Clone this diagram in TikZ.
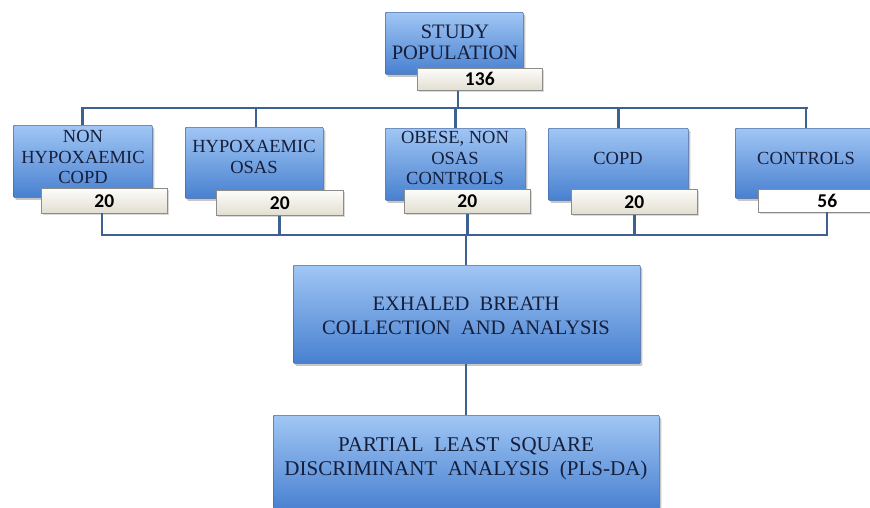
\documentclass[tikz,border=0pt]{standalone}
\usepackage{fontspec}
\setmainfont{Liberation Serif}
\newfontfamily\serf{Liberation Serif}
\newfontfamily\numfont{Carlito}
\usetikzlibrary{shadows}
\definecolor{boxtop}{RGB}{160,198,244}
\definecolor{boxbot}{RGB}{72,128,208}
\definecolor{boxedge}{RGB}{66,104,165}
\definecolor{conncol}{RGB}{60,98,145}
\definecolor{txtcol}{RGB}{22,30,58}
\definecolor{labtop}{RGB}{252,252,250}
\definecolor{labbot}{RGB}{226,222,208}
\definecolor{labedge}{RGB}{140,140,140}
\tikzset{
  bluebox/.style={draw=boxedge, line width=0.6pt, top color=boxtop, bottom color=boxbot,
    rounded corners=1pt, inner sep=0pt, anchor=north west,
    drop shadow={shadow xshift=2pt, shadow yshift=-2.5pt, opacity=0.45}},
  boxtxt/.style={text=txtcol, align=center, inner sep=0pt, font=\serf\fontsize{18.5}{20.5}\selectfont},
  bigtxt/.style={text=txtcol, align=center, inner sep=0pt, font=\serf\fontsize{20.5}{24}\selectfont},
  numlab/.style={draw=labedge, line width=0.6pt, top color=labtop, bottom color=labbot,
    inner sep=0pt, anchor=north west, text=black,
    font=\numfont\bfseries\fontsize{19.5}{19.5}\selectfont,
    drop shadow={shadow xshift=1.5pt, shadow yshift=-1.5pt, opacity=0.3}},
  whitelab/.style={numlab, top color=white, bottom color=white},
  conn/.style={draw=conncol, line width=2.8pt}
}
\begin{document}
\begin{tikzpicture}[x=1pt,y=-1pt]
\useasboundingbox (0,0) rectangle (870,507);

% top
\node[bluebox, minimum width=138, minimum height=62] (pop) at (385,12) {};
\node[boxtxt, font=\serf\fontsize{20.5}{21}\selectfont] (popt) at (455,42) {STUDY\\POPULATION};
\node[numlab, minimum width=125, minimum height=22] (l0) at (417,68) {136};

% hubs
\coordinate (hub) at (458,108);
\coordinate (bus) at (466,235);

% row boxes
\node[bluebox, minimum width=139, minimum height=72] (b1) at (13,125) {};
\node[bluebox, minimum width=138, minimum height=71] (b2) at (185,127) {};
\node[bluebox, minimum width=140, minimum height=72] (b3) at (385,128) {};
\node[bluebox, minimum width=140, minimum height=72] (b4) at (548,128) {};
\node[bluebox, minimum width=142, minimum height=70] (b5) at (735,128) {};

\node[boxtxt] (t1) at (83,157) {NON\\HYPOXAEMIC\\COPD};
\node[boxtxt] (t2) at (254,157) {HYPOXAEMIC\\OSAS};
\node[boxtxt] (t3) at (455,158) {OBESE, NON\\OSAS\\CONTROLS};
\node[boxtxt] (t4) at (618,158) {COPD};
\node[boxtxt] (t5) at (806,158) {CONTROLS};

\node[numlab, minimum width=126, minimum height=25] (l1) at (41,188) {20};
\node[numlab, minimum width=127, minimum height=25] (l2) at (216,190) {20};
\node[numlab, minimum width=126, minimum height=24] (l3) at (404,189) {20};
\node[numlab, minimum width=126, minimum height=25] (l4) at (571,189) {20};
\node[whitelab, minimum width=138, minimum height=23] (l5) at (758,189) {56};

% lower boxes
\node[bluebox, minimum width=347, minimum height=98] (exh) at (293,265) {};
\node[bigtxt] (exht) at (466,316) {EXHALED\ \ BREATH\\COLLECTION\ \ AND ANALYSIS};
\node[bluebox, minimum width=386, minimum height=95] (pls) at (273,415) {};
\node[bigtxt, font=\serf\fontsize{21}{23.5}\selectfont] (plst) at (466,459) {PARTIAL\ \ LEAST\ \ SQUARE\\DISCRIMINANT\ \ ANALYSIS\ \ (PLS-DA)};

% connectors
\draw[conn] (hub |- l0.south) -- (hub);
\draw[conn, line cap=rect] (b1.north |- hub) -- (b5.north |- hub);
\draw[conn] (b1.north |- hub) -- (b1.north);
\draw[conn] (256,108) -- (b2.north -| 256,0);
\draw[conn] (b3.north |- hub) -- (b3.north);
\draw[conn] (b4.north |- hub) -- (b4.north);
\draw[conn] (806,108) -- (806,128);

\draw[conn] (102,213) -- (102,235);
\draw[conn] (l2.south) -- (l2.south |- bus);
\draw[conn] (l3.south) -- (l3.south |- bus);
\draw[conn] (l4.south) -- (l4.south |- bus);
\draw[conn] (827,212) -- (827,235);
\draw[conn, line cap=rect] (102,235) -- (827,235);
\draw[conn] (bus) -- (exh.north -| bus);
\draw[conn] (exh.south -| bus) -- (pls.north -| bus);
\end{tikzpicture}
\end{document}
